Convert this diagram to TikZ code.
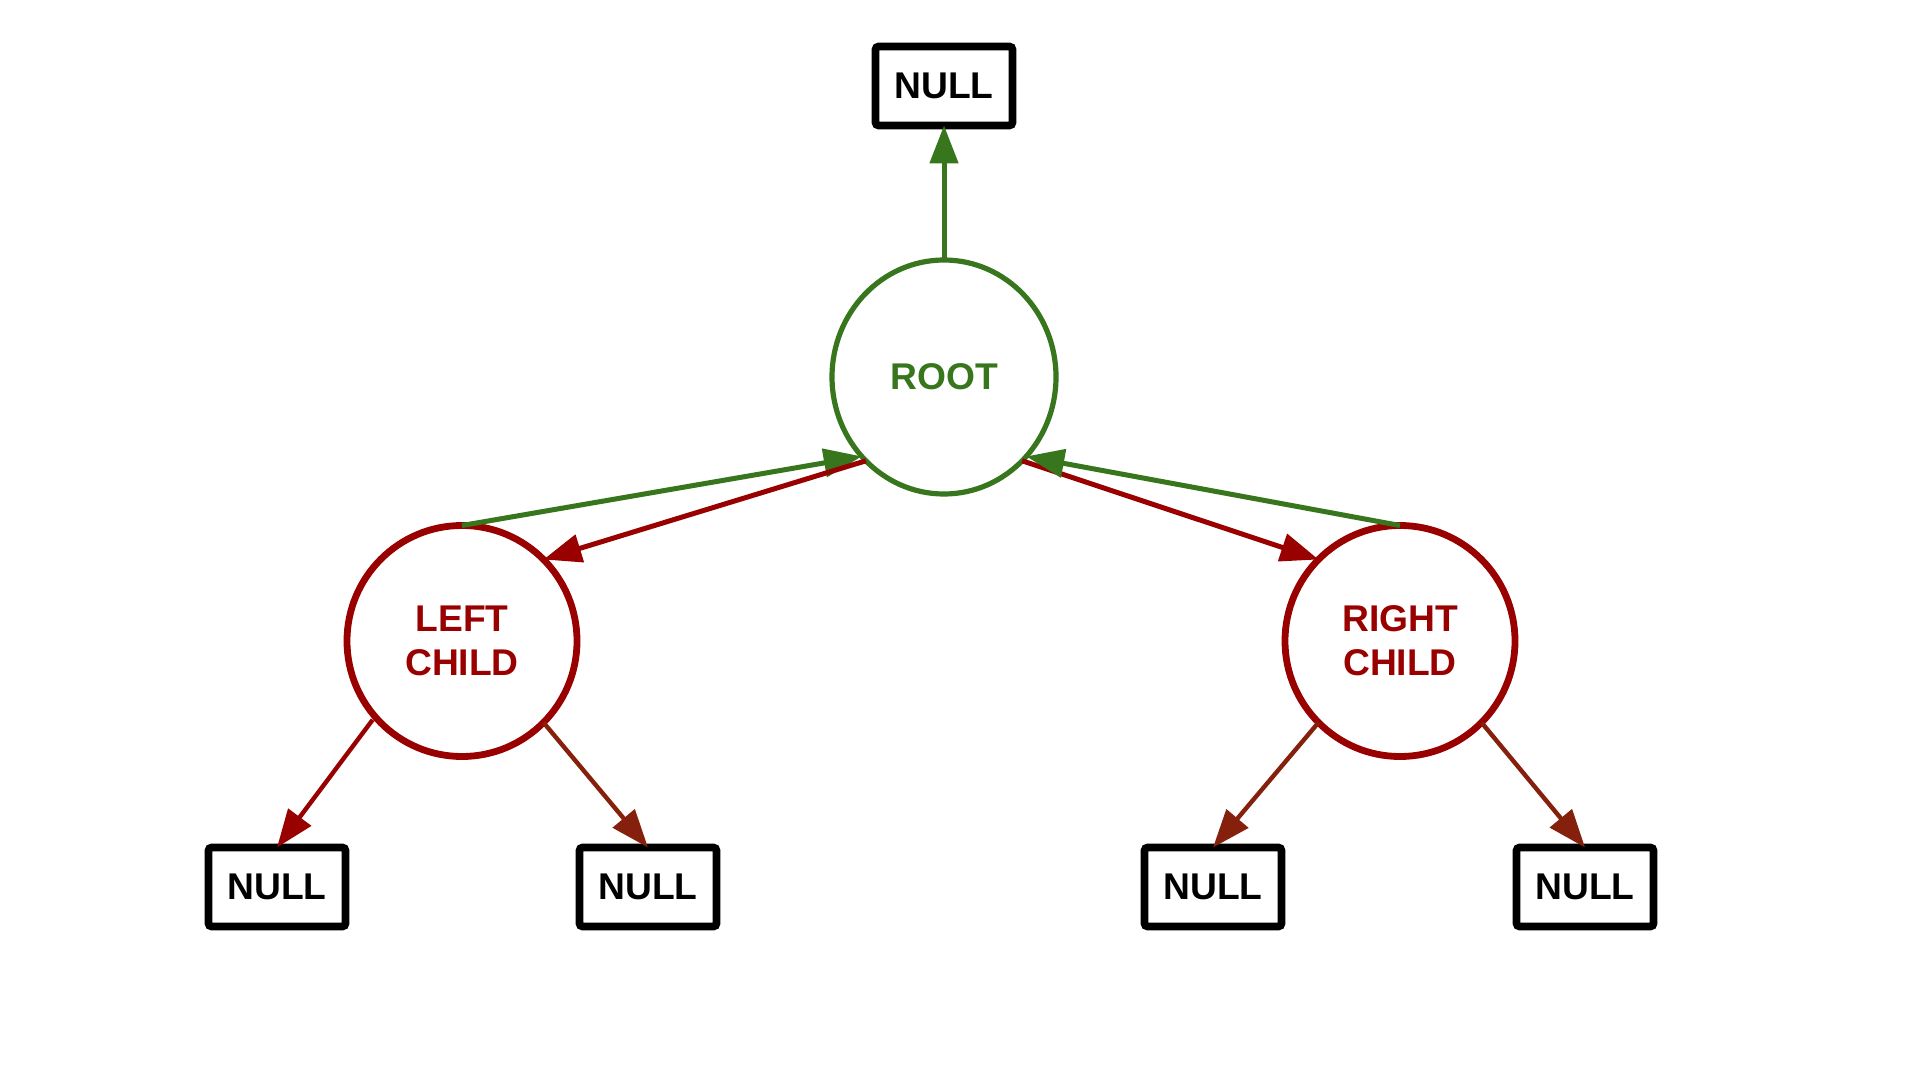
\documentclass[tikz,border=0pt]{standalone}
\usepackage{fontspec}
\setmainfont{Liberation Sans}
\usetikzlibrary{arrows.meta,shapes.geometric}
\definecolor{tgreen}{HTML}{38761D}
\definecolor{tred}{HTML}{990000}
\definecolor{tbrown}{HTML}{85200C}
\begin{document}
\begin{tikzpicture}[x=0.5pt,y=-0.5pt,
  lbl/.style={font=\fontsize{18.6}{22}\selectfont\bfseries, align=center},
  nullbox/.style={lbl, draw=black, line width=3.8pt, rounded corners=1.5pt,
    minimum width=68.5pt, minimum height=39.5pt, inner sep=0pt, outer sep=0pt},
  rootnode/.style={lbl, ellipse, draw=tgreen, line width=2.6pt, text=tgreen,
    minimum width=112pt, minimum height=117pt, inner sep=0pt, outer sep=0pt},
  childnode/.style={lbl, ellipse, draw=tred, line width=3.4pt, text=tred,
    minimum width=115pt, minimum height=115.5pt, inner sep=0pt, outer sep=0pt},
  tipshape/.style={-{Triangle[length=19pt,width=14pt]}},
  garrow/.style={tipshape, draw=tgreen, fill=tgreen, line width=2.5pt},
  rarrow/.style={tipshape, draw=tred, fill=tred, line width=2.5pt},
  rarrowthin/.style={tipshape, draw=tred, fill=tred, line width=2.2pt},
  barrow/.style={tipshape, draw=tbrown, fill=tbrown, line width=2.2pt}
]
\useasboundingbox[fill=white] (0,0) rectangle (1920,1080);

\node[nullbox] (top) at (944,86) {NULL};
\node[rootnode] (root) at (944,377) {ROOT};
\node[childnode] (left) at (462,641) {LEFT\\CHILD};
\node[childnode] (right) at (1400,641) {RIGHT\\CHILD};
\node[nullbox] (b1) at (277,887) {NULL};
\node[nullbox] (b2) at (648,887) {NULL};
\node[nullbox] (b3) at (1213,887) {NULL};
\node[nullbox] (b4) at (1585,887) {NULL};

\draw[garrow] (root.north) -- (top.south);
\draw[garrow] (left.90) -- (root.224);
\draw[rarrow] (root.227) -- (left.45);
\draw[rarrow] (root.-47) -- (right.135);
\draw[garrow] (right.90) -- (root.-44);

\draw[rarrowthin, shorten <=2pt] (left.221) -- (b1.north);
\draw[barrow] (left.-45) -- (b2.north);
\draw[barrow] (right.225) -- (b3.north);
\draw[barrow] (right.-45) -- (b4.north);
\end{tikzpicture}
\end{document}
